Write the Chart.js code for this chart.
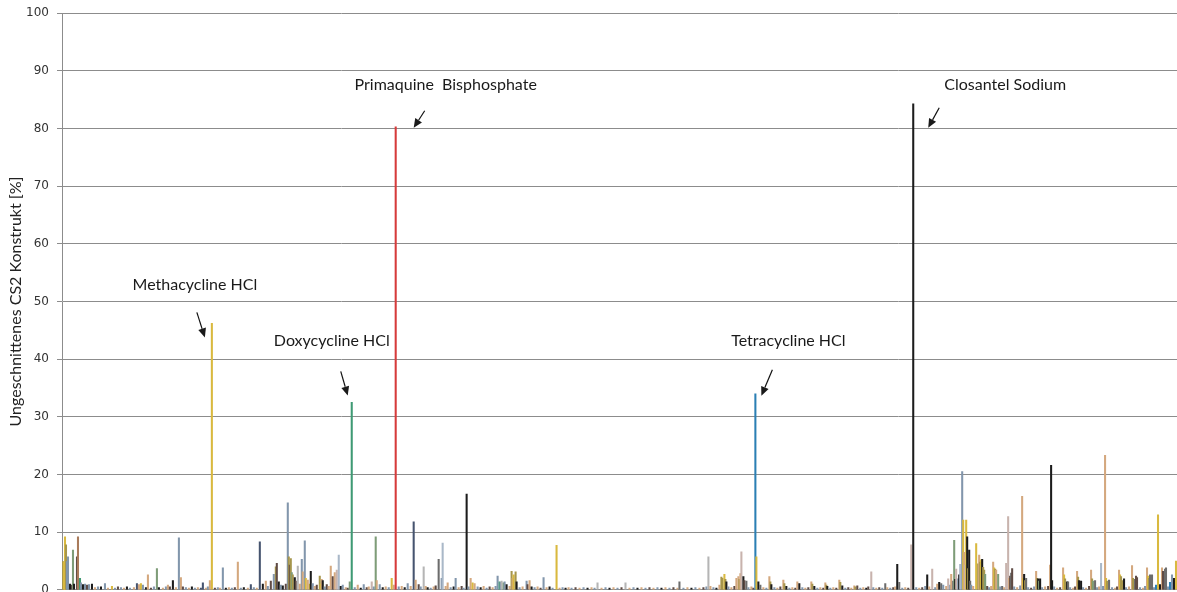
<!DOCTYPE html>
<html lang="de">
<head>
<meta charset="utf-8">
<title>Ungeschnittenes CS2 Konstrukt</title>
<script src="https://cdn.jsdelivr.net/npm/chart.js@4/dist/chart.umd.min.js"></script>
<style>
  html, body { margin: 0; padding: 0; background: #fff; overflow: hidden; }
  #wrap { position: relative; width: 1177px; height: 607px; margin-top: -2px; }
</style>
</head>
<body>
<div id="wrap"><canvas id="chart"></canvas></div>
<script>
// Screening-Platte: Position der Substanz (Well-Nummer) und Anteil ungeschnittenes Konstrukt [%]
const wellPos = [
  63, 64, 65, 66, 67, 68, 70, 72, 73, 74, 77, 78, 80, 81, 83, 85, 87, 89, 92, 95,
  98, 101, 105, 108, 112, 115, 118, 121, 124, 127, 130, 134, 137, 139, 141, 143, 146, 148, 151, 154,
  157, 159, 163, 166, 168, 170, 173, 176, 179, 181, 183, 186, 189, 192, 195, 198, 201, 203, 206, 208,
  210, 212, 215, 218, 220, 223, 226, 229, 232, 235, 238, 241, 244, 248, 251, 254, 257, 260, 263, 266,
  268, 271, 274, 276, 277, 279, 281, 283, 286, 288, 289, 290, 291, 292, 293, 295, 296, 298, 300, 302,
  303, 305, 306, 308, 310, 311, 313, 315, 317, 320, 321, 322, 323, 325, 327, 329, 331, 333, 335, 337,
  339, 341, 343, 346, 348, 350, 352, 355, 358, 361, 364, 367, 369, 372, 374, 376, 377, 380, 383, 386,
  389, 392, 394, 396, 399, 402, 405, 408, 411, 414, 416, 419, 421, 424, 426, 428, 431, 434, 436, 439,
  442, 443, 446, 448, 451, 454, 456, 459, 462, 464, 467, 469, 471, 473, 475, 478, 481, 484, 487, 490,
  493, 496, 498, 500, 501, 502, 504, 505, 507, 510, 512, 513, 514, 516, 517, 520, 523, 527, 528, 530,
  532, 535, 538, 541, 544, 547, 550, 553, 557, 560, 563, 566, 569, 572, 576, 580, 584, 588, 592, 595,
  598, 602, 606, 610, 614, 618, 622, 626, 630, 634, 638, 642, 646, 650, 654, 658, 662, 666, 670, 674,
  678, 680, 684, 688, 692, 696, 700, 704, 707, 709, 711, 714, 717, 720, 722, 723, 725, 726, 727, 729,
  732, 735, 737, 739, 740, 741, 742, 744, 745, 747, 749, 752, 754, 756, 757, 759, 761, 764, 767, 770,
  771, 772, 775, 778, 781, 784, 785, 787, 790, 793, 796, 798, 800, 803, 806, 809, 812, 813, 815, 818,
  821, 824, 826, 827, 828, 831, 834, 837, 840, 841, 843, 846, 849, 852, 855, 856, 858, 861, 864, 867,
  869, 872, 874, 877, 880, 883, 886, 888, 891, 894, 896, 898, 900, 903, 906, 909, 912, 914, 917, 920,
  923, 926, 928, 930, 933, 936, 938, 940, 942, 944, 947, 949, 951, 952, 954, 955, 956, 957, 959, 960,
  961, 963, 964, 965, 966, 967, 968, 969, 970, 971, 972, 974, 977, 979, 980, 981, 982, 983, 984, 985,
  986, 988, 990, 992, 994, 995, 996, 997, 999, 1001, 1003, 1005, 1007, 1009, 1010, 1011, 1012, 1013, 1015, 1018,
  1021, 1023, 1024, 1025, 1026, 1027, 1029, 1032, 1035, 1037, 1038, 1039, 1040, 1041, 1043, 1046, 1049, 1051, 1052, 1053,
  1055, 1058, 1061, 1064, 1065, 1066, 1068, 1069, 1071, 1074, 1076, 1078, 1079, 1080, 1082, 1084, 1087, 1090, 1092, 1093,
  1094, 1096, 1098, 1100, 1102, 1104, 1106, 1107, 1108, 1110, 1113, 1116, 1118, 1120, 1121, 1122, 1123, 1125, 1127, 1130,
  1133, 1134, 1136, 1137, 1138, 1141, 1144, 1146, 1148, 1149, 1150, 1151, 1153, 1155, 1157, 1159, 1161, 1163, 1164, 1166,
  1167, 1169, 1171, 1173, 1175, 1177,
];

const signalPct = [
  4.9, 4.8, 9.2, 7.8, 4.9, 5.7, 1.0, 0.8, 6.9, 1.0, 5.7, 9.2, 2.0, 1.2, 0.9, 1.0, 0.8, 0.9, 1.0, 0.4,
  0.5, 0.5, 1.1, 0.3, 0.6, 0.3, 0.5, 0.4, 0.3, 0.5, 0.3, 0.4, 1.1, 0.9, 1.1, 0.8, 0.4, 2.6, 0.3, 0.5,
  3.7, 0.4, 0.3, 0.5, 0.8, 0.5, 1.6, 0.4, 9.0, 2.1, 0.5, 0.4, 0.3, 0.5, 0.3, 0.4, 0.3, 1.2, 0.3, 0.5,
  1.6, 46.2, 0.3, 0.4, 0.3, 3.8, 0.3, 0.4, 0.3, 0.4, 4.8, 0.3, 0.4, 0.3, 0.9, 0.4, 0.3, 8.3, 1.0, 1.5,
  0.6, 1.5, 2.7, 4.0, 4.6, 1.4, 0.8, 0.7, 1.0, 15.1, 5.7, 4.3, 5.4, 3.0, 2.6, 2.1, 1.5, 4.1, 1.0, 5.3,
  3.1, 8.5, 2.0, 1.7, 1.0, 3.2, 1.1, 0.6, 0.8, 2.4, 1.0, 1.8, 1.6, 0.5, 0.9, 0.6, 4.1, 2.3, 3.0, 3.4,
  6.0, 0.6, 0.8, 0.4, 0.3, 1.4, 32.5, 0.4, 0.8, 0.3, 0.9, 0.4, 0.5, 1.4, 0.5, 9.2, 1.6, 0.9, 0.4, 0.5,
  0.4, 2.0, 0.8, 80.3, 0.5, 0.6, 0.4, 1.1, 0.6, 11.8, 1.7, 0.9, 0.5, 4.0, 0.6, 0.4, 0.3, 0.5, 0.7, 5.3,
  2.0, 8.1, 0.6, 1.2, 0.4, 0.5, 2.0, 0.4, 0.6, 0.3, 16.6, 0.5, 2.0, 1.2, 1.1, 0.5, 0.4, 0.6, 0.3, 0.5,
  0.4, 0.6, 2.4, 1.4, 1.3, 1.5, 1.2, 1.4, 0.9, 0.6, 3.2, 2.0, 2.6, 3.1, 1.4, 0.4, 0.5, 1.5, 0.9, 1.6,
  0.5, 0.4, 0.5, 0.3, 2.1, 0.4, 0.5, 0.3, 7.7, 0.3, 0.4, 0.3, 0.4, 0.3, 0.4, 0.3, 0.4, 0.3, 0.4, 0.3,
  1.2, 0.3, 0.4, 0.3, 0.4, 0.3, 0.4, 1.2, 0.3, 0.4, 0.3, 0.4, 0.3, 0.4, 0.3, 0.4, 0.3, 0.4, 0.3, 0.4,
  0.3, 1.4, 0.3, 0.4, 0.3, 0.4, 0.3, 0.4, 0.5, 5.7, 0.6, 0.4, 0.3, 0.8, 2.2, 2.0, 2.7, 1.8, 1.4, 0.5,
  0.4, 0.6, 2.0, 2.3, 1.8, 2.8, 6.6, 2.3, 1.6, 1.5, 0.4, 0.5, 0.3, 34.0, 5.7, 1.4, 0.8, 0.4, 0.3, 2.3,
  1.4, 0.9, 0.4, 0.3, 0.5, 1.7, 1.1, 0.6, 0.3, 0.4, 0.3, 1.4, 1.1, 0.4, 0.3, 0.4, 1.4, 1.0, 0.6, 0.3,
  0.4, 0.3, 1.2, 0.8, 0.6, 0.3, 0.4, 0.3, 1.7, 1.3, 0.7, 0.3, 0.4, 0.3, 0.7, 0.5, 0.7, 0.3, 0.4, 0.3,
  0.5, 3.1, 0.4, 0.3, 0.4, 0.3, 1.1, 0.4, 0.3, 0.4, 0.5, 4.4, 1.3, 0.3, 0.4, 0.3, 7.8, 84.3, 0.4, 0.3,
  0.4, 0.6, 2.6, 0.5, 3.6, 0.4, 1.0, 1.3, 1.1, 0.8, 0.6, 1.9, 0.8, 2.7, 1.5, 8.6, 1.8, 3.6, 1.9, 2.6,
  4.4, 20.5, 12.1, 6.5, 4.3, 12.1, 9.2, 3.7, 6.9, 1.5, 0.8, 0.6, 8.0, 4.5, 6.0, 4.8, 5.2, 5.3, 3.9, 3.4,
  2.7, 0.6, 0.4, 0.6, 4.8, 3.8, 3.6, 3.4, 2.7, 0.5, 0.6, 0.4, 4.6, 12.7, 2.0, 2.4, 2.9, 3.7, 0.5, 0.4,
  0.7, 16.2, 2.0, 2.7, 1.6, 2.0, 0.4, 0.3, 0.5, 3.2, 2.0, 1.9, 1.5, 1.9, 0.4, 0.5, 0.6, 4.3, 21.6, 1.6,
  0.5, 0.3, 0.4, 3.8, 2.6, 1.9, 1.4, 1.4, 0.4, 0.3, 0.5, 3.2, 2.2, 1.6, 1.5, 0.4, 0.3, 0.6, 3.4, 1.9,
  1.5, 1.6, 0.4, 0.5, 4.6, 0.6, 23.3, 2.0, 1.5, 1.7, 0.4, 0.3, 0.5, 3.4, 2.6, 2.3, 1.6, 1.9, 0.4, 0.5,
  4.2, 2.0, 1.8, 2.4, 2.1, 0.4, 0.3, 0.6, 3.8, 2.4, 2.0, 2.6, 2.6, 0.4, 0.8, 13.0, 0.9, 3.8, 3.2, 3.6,
  3.8, 0.5, 1.3, 2.6, 2.0, 5.0,
];

// Farbgruppe je Balken (Schlüssel in PALETTE)
const tone = [
  'O','Y','Y','O','S','S','K','D','E','K','D','U','G','S','K','S','D','S','K','T',
  'S','K','S','T','Y','S','D','S','T','K','S','T','N','T','Y','S','K','T','D','S',
  'E','K','T','S','T','D','K','T','S','T','D','S','T','K','S','T','N','N','T','S',
  'T','Y','D','S','T','S','K','T','S','D','T','S','K','T','N','S','T','N','K','T',
  'S','D','S','O','D','K','S','K','D','S','O','D','O','E','O','K','D','L','T','S',
  'T','S','Y','T','Y','K','S','T','D','O','Y','T','K','S','D','T','T','D','T','P',
  'Q','K','S','T','D','E','G','S','T','K','S','D','T','P','S','E','T','S','K','T',
  'S','Y','T','R','S','T','K','S','T','N','T','D','S','L','T','K','S','T','D','M',
  'S','Q','T','T','S','K','S','T','D','S','K','S','T','Y','T','S','K','T','S','D',
  'T','S','S','G','S','L','E','S','K','T','O','T','Y','O','K','S','T','S','D','T',
  'K','S','T','D','S','T','K','S','Y','T','S','K','T','S','D','T','S','K','T','S',
  'L','T','S','K','T','S','D','L','T','S','K','T','S','D','T','S','K','T','S','D',
  'T','M','S','T','K','S','T','D','S','L','T','S','K','T','O','O','Y','O','K','S',
  'T','D','T','T','O','T','P','K','D','M','S','T','D','B','Y','K','M','T','S','T',
  'O','K','S','T','D','T','O','K','S','T','D','T','K','S','T','D','T','O','K','S',
  'T','D','T','O','K','S','T','D','T','O','K','S','D','T','T','O','D','S','T','K',
  'D','P','S','T','D','S','M','T','S','D','T','K','M','S','T','D','P','K','S','T',
  'D','S','K','T','P','S','T','K','M','S','T','P','S','T','M','E','K','P','S','K',
  'Q','S','Y','T','P','Y','K','O','K','M','S','T','Y','O','T','O','Y','K','O','O',
  'E','D','S','T','T','Y','O','T','E','S','M','T','P','P','T','D','M','D','S','T',
  'S','T','Y','K','O','M','S','D','S','T','O','K','E','K','S','T','D','T','K','K',
  'S','T','D','T','Y','O','K','M','S','T','D','T','O','K','K','S','T','D','T','O',
  'E','M','S','T','Q','S','T','Y','O','M','S','T','D','T','Y','O','O','K','S','T',
  'T','O','M','D','D','S','T','S','T','Y','O','M','M','S','B','Y','K','T','D','M',
  'M','S','B','S','K','Y',
];

const yTicks = [0, 10, 20, 30, 40, 50, 60, 70, 80, 90, 100];

// Beschriftete Treffer: Balken über wellPos, Text-/Pfeil-Versatz in Pixeln zur Balkenspitze
const hits = [
  { name: 'Methacycline HCl',         well: 212, text: [-17, -39], arrow: [-15, -11, -7, 14] },
  { name: 'Doxycycline HCl',          well: 352, text: [-20, -62], arrow: [-11, -31, -4, -7] },
  { name: 'Primaquine  Bisphosphate', well: 396, text: [50, -42],  arrow: [29, -16, 18, 1] },
  { name: 'Tetracycline HCl',         well: 756, text: [33, -53],  arrow: [17, -24, 6, 2] },
  { name: 'Closantel Sodium',         well: 914, text: [92, -19],  arrow: [26, 4, 15, 24] },
];

const PALETTE = {
  Y: '#d9b93f', O: '#a6964c', S: '#8296ac', Q: '#a9b8c8', N: '#46546f',
  K: '#1c1c1c', D: '#5f4b45', M: '#6c6c6c', T: '#d4a87e', P: '#c8b3ad',
  L: '#b5b5b5', E: '#7e9c78', G: '#3f9a74', R: '#d63b3b', B: '#2b7fb4',
  U: '#a97b5b',
};

const hitLabels = {
  id: 'hitLabels',
  afterDatasetsDraw(chart) {
    const { ctx, scales: { x, y } } = chart;
    ctx.save();
    ctx.fillStyle = '#1a1a1a';
    ctx.strokeStyle = '#111';
    ctx.lineWidth = 1.2;
    ctx.font = '16px Lato, "Open Sans", sans-serif';
    ctx.textAlign = 'center';
    ctx.textBaseline = 'middle';
    hits.forEach((h) => {
      const i = wellPos.indexOf(h.well);
      const bx = x.getPixelForValue(h.well);
      const by = y.getPixelForValue(signalPct[i]);
      ctx.fillText(h.name, bx + h.text[0], by + h.text[1]);
      const [x0, y0, x1, y1] = [bx + h.arrow[0], by + h.arrow[1], bx + h.arrow[2], by + h.arrow[3]];
      const ang = Math.atan2(y1 - y0, x1 - x0);
      const hl = 9, hw = 4;
      const ex = x1 - hl * Math.cos(ang), ey = y1 - hl * Math.sin(ang);
      ctx.beginPath();
      ctx.moveTo(x0, y0);
      ctx.lineTo(ex, ey);
      ctx.stroke();
      ctx.beginPath();
      ctx.moveTo(x1, y1);
      ctx.lineTo(ex + hw * Math.sin(ang), ey - hw * Math.cos(ang));
      ctx.lineTo(ex - hw * Math.sin(ang), ey + hw * Math.cos(ang));
      ctx.closePath();
      ctx.fill();
    });
    ctx.restore();
  },
};

new Chart(document.getElementById('chart'), {
  type: 'bar',
  data: {
    datasets: [{
      label: 'Ungeschnittenes CS2 Konstrukt',
      data: wellPos.map((w, i) => ({ x: w, y: signalPct[i] })),
      backgroundColor: tone.map((t) => PALETTE[t]),
      borderWidth: 0,
      barThickness: 1.4,
      grouped: false,
    }],
  },
  options: {
    responsive: true, maintainAspectRatio: false,
    animation: false,
    layout: { padding: { top: 11, right: 0, bottom: 4, left: 0 } },
    scales: {
      x: {
        type: 'linear', min: 62, max: 1178, display: false,
        offset: false,
      },
      y: {
        min: 0, max: 100,
        afterBuildTicks: (s) => { s.ticks = yTicks.map((v) => ({ value: v })); },
        afterFit: (s) => { s.width = 62; },
        border: { color: '#8c8c8c', width: 1 },
        grid: { color: '#8c8c8c', lineWidth: 1, tickLength: 5 },
        ticks: {
          color: '#333', padding: 8,
          font: { family: '"DejaVu Sans", Verdana, sans-serif', size: 12 },
        },
        title: {
          display: true, text: 'Ungeschnittenes CS2 Konstrukt [%]',
          color: '#222', padding: { top: 6, bottom: 0 },
          font: { family: 'Lato, "Open Sans", sans-serif', size: 16 },
        },
      },
    },
    plugins: {
      legend: { display: false },
      tooltip: { enabled: false },
    },
  },
  plugins: [hitLabels],
});
</script>
</body>
</html>
